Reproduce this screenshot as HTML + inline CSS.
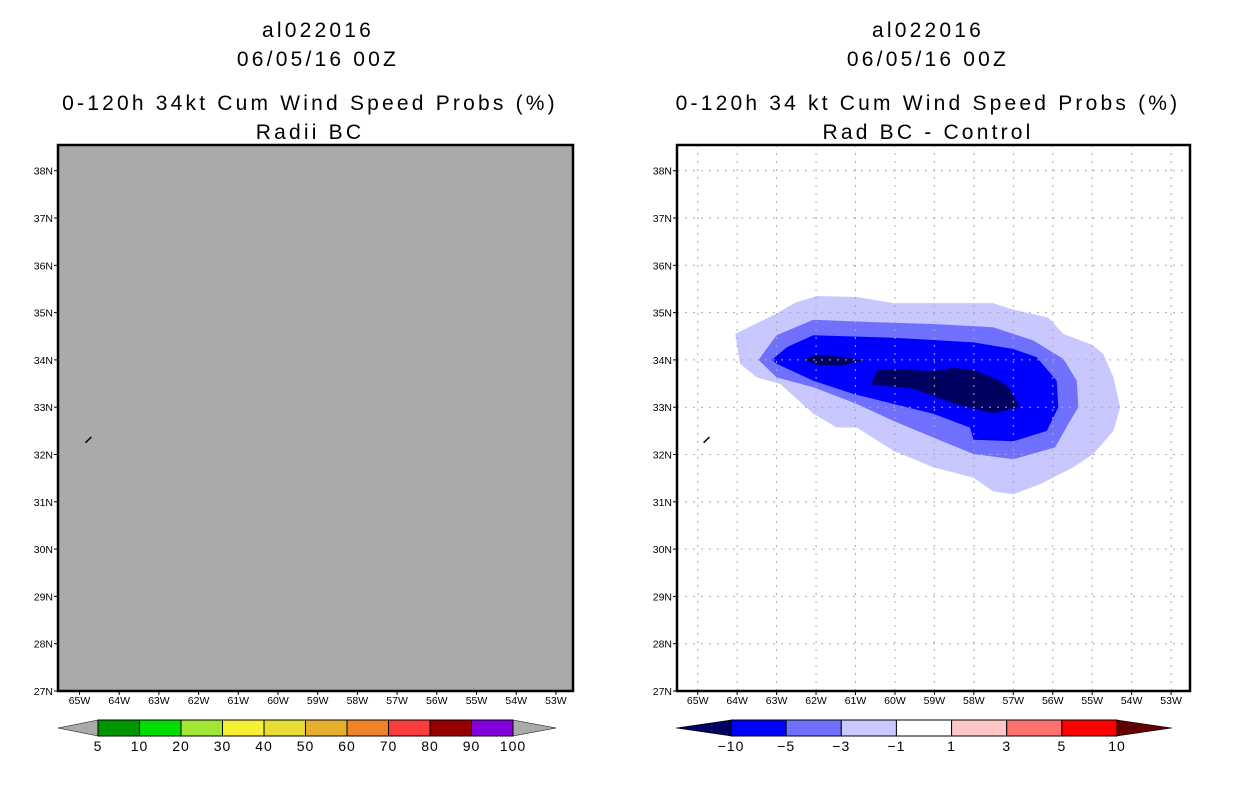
<!DOCTYPE html>
<html><head><meta charset="utf-8"><style>
html,body{margin:0;padding:0;background:#fff;}
svg{display:block;font-family:"Liberation Sans",sans-serif;}
</style></head><body>
<svg id="chart" width="1236" height="800" viewBox="0 0 1236 800" xmlns="http://www.w3.org/2000/svg">
<g font-size="21" letter-spacing="3.2" text-anchor="middle" fill="#000">
<text x="318" y="37">al022016</text><text x="318" y="66">06/05/16 00Z</text>
<text x="310" y="110">0-120h 34kt Cum Wind Speed Probs (%)</text><text x="310" y="139">Radii BC</text></g>
<g font-size="21" letter-spacing="3.2" text-anchor="middle" fill="#000">
<text x="928" y="37">al022016</text><text x="928" y="66">06/05/16 00Z</text>
<text x="928" y="110">0-120h 34 kt Cum Wind Speed Probs (%)</text><text x="928" y="139">Rad BC - Control</text></g>
<g id="left"></g><g id="right"></g><g id="cbars"></g>
</svg>
<script>
const NS="http://www.w3.org/2000/svg";
const lonTicks=[-65,-64,-63,-62,-61,-60,-59,-58,-57,-56,-55,-54,-53];
const latTicks=[27,28,29,30,31,32,33,34,35,36,37,38];
const contourLevels=["-1","-3","-5","-10","-10b"];
const contourColors={"-1":"#c8c8ff","-3":"#7070ff","-5":"#0000ff","-10":"#000060","-10b":"#000060"};
const lonM1=[-64.05,-63.0,-62.53,-61.98,-60.97,-60.04,-57.51,-57.08,-56.11,-55.73,-55.01,-54.72,-54.46,-54.29,-54.46,-54.97,-55.48,-56.32,-57.0,-57.51,-58.01,-59.03,-60.04,-60.97,-61.48,-62.07,-62.91,-63.5,-63.93];
const latM1=[34.55,34.98,35.21,35.35,35.33,35.2,35.2,35.08,34.89,34.55,34.32,34.13,33.63,33.0,32.5,32.01,31.73,31.37,31.16,31.22,31.51,31.73,32.08,32.57,32.57,32.86,33.49,33.63,33.92];
const lonM3=[-63.46,-63.0,-62.07,-60.55,-59.03,-57.51,-56.49,-55.73,-55.39,-55.35,-55.56,-55.94,-57.0,-58.01,-59.03,-60.04,-60.97,-62.07,-63.0];
const latM3=[34.0,34.52,34.85,34.8,34.76,34.69,34.41,34.02,33.56,33.0,32.71,32.15,31.9,32.01,32.36,32.71,33.07,33.42,33.63];
const lonM5=[-63.12,-62.74,-62.07,-60.04,-58.01,-57.0,-56.41,-55.9,-55.86,-56.15,-57.0,-58.01,-58.1,-59.03,-60.04,-61.05,-62.07,-63.0];
const latM5=[34.0,34.27,34.52,34.47,34.37,34.23,34.06,33.56,33.0,32.5,32.28,32.31,32.57,32.86,33.07,33.28,33.56,33.92];
const lonM10=[-62.32,-61.98,-61.39,-60.8,-61.39,-61.98];
const latM10=[34.0,34.11,34.07,33.99,33.88,33.9];
const lonM10b=[-60.46,-60.04,-59.03,-58.52,-58.01,-57.34,-57.12,-56.83,-57.51,-58.35,-59.53,-60.59];
const latM10b=[33.77,33.81,33.76,33.83,33.79,33.56,33.42,33.0,32.87,33.03,33.39,33.48];
const leftBarLabels=["5","10","20","30","40","50","60","70","80","90","100"];
const leftBarColors=["#009600","#00dc00","#a0e632","#f5f032","#e6dc32","#e6af2d","#f08228","#fa3c3c","#960000","#8200dc"];
const rightBarLabels=["-10","-5","-3","-1","1","3","5","10"];
const rightBarColors=["#0000ff","#7070ff","#c8c8ff","#ffffff","#ffc8c8","#ff7070","#ff0000"];

function mk(tag,attrs,parent){const e=document.createElementNS(NS,tag);for(const k in attrs)e.setAttribute(k,attrs[k]);parent.appendChild(e);return e;}

function panel(gid,x0,x1,lon65,pxPerLon,right){
  const g=document.getElementById(gid);
  const top=145,bot=691;
  const X=lon=>lon65+(lon+65)*pxPerLon;
  const Y=lat=>bot-(lat-27)*47.3;
  const bg=mk('rect',{x:x0,y:top,width:x1-x0,height:bot-top,fill:right?'#fff':'#aaaaaa'},g);
  
  
  if(right){
    const lv={"-1":[lonM1,latM1],"-3":[lonM3,latM3],"-5":[lonM5,latM5],"-10":[lonM10,latM10],"-10b":[lonM10b,latM10b]};
    contourLevels.forEach(k=>{
      const [lo,la]=lv[k];
      const p=mk('polygon',{points:lo.map((v,i)=>X(v).toFixed(1)+','+Y(la[i]).toFixed(1)).join(' '),fill:contourColors[k]},g);
      
      
    });
    lonTicks.forEach(l=>{const ln=mk('line',{x1:X(l),x2:X(l),y1:top,y2:bot,stroke:'#aaa','stroke-dasharray':'2,6'},g);
      });
    latTicks.forEach(l=>{const ln=mk('line',{x1:x0,x2:x1,y1:Y(l),y2:Y(l),stroke:'#aaa','stroke-dasharray':'2,6'},g);
      });
  }
  const isl=mk('line',{x1:X(-64.85),y1:Y(32.25),x2:X(-64.7),y2:Y(32.37),stroke:'#000','stroke-width':1.5},g);
  
  const fr=mk('rect',{x:x0,y:top,width:x1-x0,height:bot-top,fill:'none',stroke:'#000','stroke-width':2.5},g);
  
  lonTicks.forEach(l=>{
    const t=mk('text',{x:X(l),y:704,'font-size':10.5,'text-anchor':'middle'},g);t.textContent=Math.abs(l)+'W';
    
    mk('line',{x1:X(l),x2:X(l),y1:bot,y2:bot+4,stroke:'#000'},g);
  });
  latTicks.forEach(l=>{
    const t=mk('text',{x:x0-5,y:Y(l)+4,'font-size':10.5,'text-anchor':'end'},g);t.textContent=l+'N';
    
    mk('line',{x1:x0-4,x2:x0,y1:Y(l),y2:Y(l),stroke:'#000'},g);
  });
}
panel('left',58,573,79.5,39.7,false);
panel('right',677,1190,697.7,39.45,true);

function cbar(x0,x1,tl,tr,colors,labels,lc,rc,name){
  const g=mk('g',{},document.getElementById('cbars'));
  
  const y0=720,y1=736,ym=728,w=(x1-x0)/colors.length;
  mk('polygon',{points:`${tl},${ym} ${x0},${y0} ${x0},${y1}`,fill:lc,stroke:'#000','stroke-width':0.5},g);
  mk('polygon',{points:`${tr},${ym} ${x1},${y0} ${x1},${y1}`,fill:rc,stroke:'#000','stroke-width':0.5},g);
  colors.forEach((c,i)=>{const r=mk('rect',{x:x0+i*w,y:y0,width:w,height:y1-y0,fill:c,stroke:'#000','stroke-width':1},g);
    });
  labels.forEach((s,i)=>{const t=mk('text',{x:x0+i*w,y:751,'font-size':14,'letter-spacing':1,'text-anchor':'middle'},g);t.textContent=s.replace('-','\u2212');
    });
}
cbar(98,513,58,556,leftBarColors,leftBarLabels,'#aaaaaa','#aaaaaa','left-colorbar');
cbar(731,1117,676,1172,rightBarColors,rightBarLabels,'#000060','#600000','right-colorbar');
</script>
</body></html>
